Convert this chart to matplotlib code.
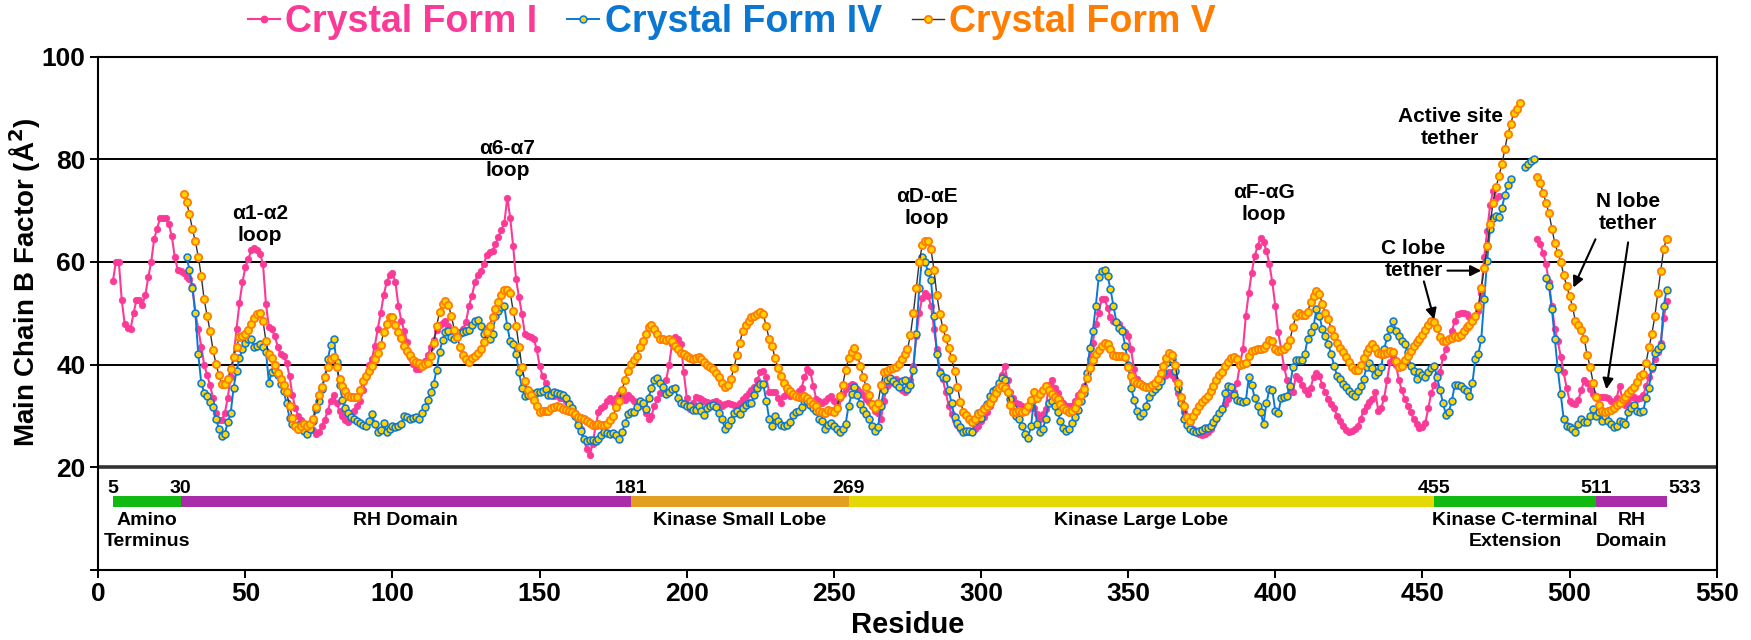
import numpy as np
import matplotlib.pyplot as plt
from matplotlib.lines import Line2D

nan = np.nan

# main chain B factor per residue
# Crystal Form I, residues 5..533 (gap 477-488)
form1_start = 5
form1 = [
    56.3, 60, 60, 52.5, 47.9,
    47.2, 47, 50, 52.6, 52.6, 51.6, 53.5, 57, 60, 64.4,
    66.5, 68.5, 68.5, 68.5, 67.3, 65, 61, 58.5, 58.2, 57.8,
    57, 56.6, 55.3, 50, 47, 43.5, 40, 38, 36, 33.5,
    30.5, 29.2, 29.3, 30.5, 33.5, 37.5, 41.5, 47, 52, 56,
    59, 60.5, 62.3, 62.8, 62.4, 61.6, 59.5, 51.8, 47.3, 46.9,
    45.5, 43.5, 42, 41.7, 40.3, 37.8, 34, 31.5, 30, 29.3,
    28.5, 27.8, 27.5, 27.2, 26.5, 26.8, 28, 29.3, 31, 33,
    34, 32.5, 31, 30, 29.3, 28.8, 29.8, 31, 32, 33,
    35, 37.5, 40, 41.1, 43.7, 47, 50, 53.5, 56, 57.4,
    57.9, 56, 51.5, 48.5, 46.6, 44.4, 41.5, 40.1, 39.2, 39.1,
    40, 40.7, 41.8, 43.5, 44.7, 46.8, 47.8, 48.1, 48.5, 47.5,
    46, 45.8, 46.3, 46, 47, 48.3, 51.5, 53.4, 56, 57.5,
    58.2, 59.5, 61.3, 61.9, 62.2, 63.5, 64.8, 66.3, 67.5, 72.5,
    68.6, 63.1, 56.6, 53.1, 49.8, 45.9, 45.6, 45.3, 45, 43,
    39.8, 37.8, 36.5, 34.9, 34, 33.8, 34, 33.5, 33.5, 33,
    32.5, 31.5, 30.5, 29, 27.5, 25.5, 23.5, 22.3, 24.5, 28,
    30.7, 31.5, 32, 33, 33.5, 32.8, 33.5, 34.3, 33.8, 33.2,
    34, 33.5, 33, 32.6, 32.5, 32, 30.5, 29.4, 30, 32,
    33.3, 34.5, 35.6, 37, 40, 44, 45.3, 45, 44, 38.5,
    33.5, 31.3, 32.5, 33.6, 33.5, 33.3, 33, 32.8, 32.6, 32.8,
    33, 32.5, 32, 32.3, 32.6, 32.4, 32.2, 32, 32.6, 33.3,
    33.8, 34.4, 35, 35.6, 37, 38.5, 38.8, 37.5, 34.6, 34.6,
    34.6, 33.5, 32.6, 33.9, 34.6, 33.9, 34, 34.3, 34.8, 35.5,
    37.5, 39.1, 38.5, 35.9, 33.3, 33, 32.6, 33, 33.5, 33.9,
    33, 32.6, 33.5, 34.2, 35.3, 35.8, 36.2, 36, 35.3, 34.6,
    34, 33.3, 32.8, 32, 31, 30.5, 29.4, 33, 35.9, 36.5,
    37, 37.2, 36, 35, 34.6, 35, 37, 39.8, 45.6, 50,
    53, 54, 53.4, 51.5, 47, 43, 38.8, 37.2, 34.6, 32,
    30.3, 29.2, 28.2, 27.4, 27, 26.8, 26.9, 27.1, 27.5, 28,
    29, 29.8, 30.7, 32, 33.3, 34.6, 35.9, 38, 39.8, 37,
    34.6, 33.5, 32.6, 32.3, 32, 31.6, 31.3, 33, 31.5, 30.3,
    29.4, 30.3, 31.3, 36, 37, 35.5, 34.5, 33.3, 32.6, 32,
    32, 32, 33, 34, 34.6, 35.8, 37.2, 41, 44.3, 48,
    50.1, 52.7, 52.7, 51.1, 49.2, 48.5, 48.2, 47.9, 47, 46.3,
    45.6, 43, 39.1, 37.2, 36.5, 36, 35.7, 35.6, 35.6, 36,
    36.5, 37, 37.5, 38, 38.5, 38, 37.2, 34.5, 32.5, 30.7,
    29.5, 28.7, 27.5, 27, 26.5, 26.2, 26.5, 26.8, 27.4, 28.5,
    29.5, 30.5, 31.5, 32.3, 33.3, 34, 34.6, 36.5, 40, 43,
    49.5, 54, 57.9, 61.2, 63, 64.7, 63.8, 62.2, 59.5, 56,
    51.4, 46.3, 43, 39.5, 37, 35.3, 34.6, 37.8, 37.2, 36,
    35, 34.3, 35.5, 37.5, 38.3, 37.8, 36, 34.6, 33.3, 32.3,
    31.5, 30, 29, 28, 27.2, 26.8, 27, 27.5, 28.1, 29.5,
    31, 32, 32.8, 33.3, 34.6, 31, 31.5, 33.5, 37, 40.5,
    41.5, 40, 37, 35, 33.3, 32, 30.7, 29.5, 28.5, 27.6,
    27.8, 28.7, 31.5, 34.5, 36, 38, 38.5, 41.5, 43, 45,
    46.5, 48.5, 49.8, 50.1, 50.1, 49.8, 49.2, 49, 49.2, 50.5,
    54, 61, 66, 71, 73.8, 72.5, 72.9, nan, nan, nan,
    nan, nan, nan, nan, nan, nan, nan, nan, nan, 64.5,
    63.5, 61.8, 59.5, 56, 51.5, 47, 44.6, 41.5, 38.5, 35.5,
    33, 32.5, 32.3, 33.2, 35, 37, 36.5, 35.2, 34.2, 33.8,
    33.6, 33.6, 33.6, 33.4, 33, 32.7, 33.5, 35.9, 33, 32.2,
    32.5, 33.6, 33.6, 33.3, 33.5, 34, 35.8, 37.5, 39.2, 41,
    42.5, 44.3, 49, 52.4,
]

# Crystal Form IV, residues 30..533
form4_start = 30
form4 = [
    60.9, 58.5, 55, 50, 42, 36.5, 34.5, 33.8, 32.8, 31.8,
    29.5, 27.5, 26, 26.5, 28.8, 30.5, 35.5, 38.8, 41.2, 43,
    44.3, 45, 45, 43.5, 43.6, 44, 43.5, 42.5, 36.5, 38.5,
    39, 38, 36.2, 34.8, 32.5, 29.6, 28.4, 28, 28.3, 28,
    27, 26.5, 27.4, 29, 31.3, 33, 35.3, 37.5, 41, 43.8,
    45, 40.5, 36, 33.2, 31.5, 30.5, 29.8, 29.4, 29, 28.6,
    28.3, 28.1, 29, 30.4, 28.5, 26.8, 27.3, 28.6, 26.8, 27.5,
    28.1, 27.9, 28, 28.4, 30, 29.7, 29.4, 29.6, 29.7, 29.4,
    30.5, 31.7, 33.2, 34.6, 36.3, 39, 42.5, 44.8, 46.3, 46.5,
    45.3, 45, 45.5, 46.2, 46.3, 46.5, 46.8, 47.8, 48.5, 48.7,
    47.5, 46, 46.9, 45, 46, 49.5, 50.5, 51.3, 51.4, 47.5,
    44.5, 44, 42, 38.5, 35.5, 33.8, 34, 34.4, 34, 34.6,
    34.6, 34.8, 35.3, 34, 34, 34.6, 34.4, 34.3, 34.1, 33.5,
    32.3, 31.5, 30, 28.2, 27, 25.5, 25.1, 25.4, 25.3, 25.2,
    25.6, 26.3, 26.8, 26.7, 26.5, 26.7, 26.2, 25.5, 26.8, 28.7,
    30.3, 30.7, 30.7, 31.8, 33, 32.5, 31.3, 33.5, 35.5, 37,
    37.3, 36.5, 35.6, 34.2, 34.6, 35.3, 35.4, 33.5, 32.5, 32.3,
    32, 32, 31.2, 31.2, 32, 31, 30.2, 31.5, 32, 32.2,
    31.8, 30.6, 29.4, 27.5, 28.3, 29.3, 30.5, 31, 30.4, 31.5,
    32.2, 32.6, 32.6, 34, 35.4, 36.3, 36.2, 33, 29.5, 28.1,
    30, 29, 28.2, 28.1, 28.3, 28.8, 30.2, 30.8, 31, 31.8,
    33, 32.9, 32.2, 31.6, 31, 29.5, 29, 27.5, 28.3, 28.7,
    28, 27.4, 26.9, 27.5, 28.5, 32, 34.2, 35.6, 34, 32.3,
    31.2, 30.3, 29.4, 28.1, 27.1, 27.8, 32, 35, 37, 37.4,
    36.8, 36.2, 35.6, 36.8, 37, 35.2, 36, 39, 46, 55,
    61, 60, 58, 56.5, 49.5, 42, 38.3, 37.5, 37.3, 35,
    32.5, 29.8, 28.6, 27.8, 26.9, 27, 27.1, 26.8, 29, 30.5,
    29.6, 31.5, 32.3, 33.8, 34.8, 35.3, 36.5, 37.4, 37, 34.6,
    33.3, 31.5, 30, 29.5, 28, 26.5, 25.8, 28, 33.3, 28.5,
    26.8, 27.5, 29.5, 32.5, 33, 32, 30.7, 29.1, 27.6, 27,
    27.5, 28.6, 29.8, 31.2, 33, 34.5, 38.3, 43.3, 46.5, 51.4,
    57, 58.3, 58.5, 57.3, 54.7, 51.4, 48.3, 47.2, 46.6, 43.6,
    40, 35.5, 33.2, 31, 29.9, 30.5, 32, 33.7, 34.6, 35.2,
    35.9, 36.8, 38.5, 40.3, 41.4, 41, 38.8, 35.5, 32.5, 29.5,
    28.2, 27.4, 27, 26.9, 27, 27.2, 27.6, 27.6, 28, 28.8,
    29.6, 30.5, 31.3, 34.5, 35.9, 35.7, 34, 33.2, 33, 32.7,
    33, 37.5, 36, 33.5, 32, 30.8, 28.4, 32.5, 35.2, 35,
    31, 30.5, 33.4, 33.6, 33.9, 35.8, 39.5, 40.8, 40.8, 40.9,
    42, 45, 46.3, 47.5, 50.8, 49.5, 46.9, 45.6, 44, 42,
    39.8, 37.8, 37.2, 36.2, 35.6, 34.8, 34.2, 33.8, 34.9, 35.9,
    37.2, 39.5, 40.4, 39.3, 38, 38.5, 39.6, 43, 45.3, 47,
    48.5, 46.6, 45.6, 44.6, 44, 42.4, 39.8, 38.7, 37.2, 38.5,
    38, 37.6, 38.5, 39.3, 39.8, 37.5, 35, 32.5, 30.2, 30.8,
    33, 36, 36.1, 35.8, 35.2, 34.8, 33.9, 36.5, 41.1, 42.1,
    45, 52.8, 60.2, 66.5, 68.5, 69, 68.7, 70.5, 73, 75,
    76.1, nan, nan, nan, nan, 78.5, 79, 79.7, 80.1, nan,
    nan, nan, 56.9, 55.3, 50.8, 45, 39.1, 34.3, 29.4, 28.1,
    27.8, 27.5, 26.8, 28.4, 29.4, 28.8, 28.8, 30, 31.3, 30,
    30.7, 29.1, 30, 29, 28.4, 27.8, 28.1, 29.1, 28.8, 28.4,
    30.7, 31.5, 32.2, 31, 30.7, 30.9, 33.5, 35.5, 39.5, 42.3,
    43, 43.7, 51.4, 54.6,
]

# Crystal Form V, residues 29..533
form5_start = 29
form5 = [
    73.2,
    71.7, 69.3, 66.4, 64, 61, 57.3, 52.7, 49.5, 46.6, 42.8,
    40.2, 38, 36.2, 36.2, 37.2, 39.1, 41.5, 43.5, 45.3, 45.6,
    45.9, 46.8, 48, 49, 49.8, 50.1, 48.5, 44.5, 42, 41.2,
    40, 38.3, 37.1, 36, 34.6, 32, 29.6, 28, 27.4, 28.1,
    28.5, 28.1, 28.5, 29.5, 31.8, 34, 35.6, 37.6, 39.5, 41,
    41.4, 39.5, 37.2, 35.8, 34.9, 33.9, 33.6, 33.6, 33.6, 35,
    36.8, 37.8, 38.8, 39.8, 41.1, 42.3, 43.8, 46.3, 48, 49.2,
    49.2, 47.8, 46.3, 45.1, 43.6, 42.6, 41.8, 40.8, 40.5, 40.3,
    39.8, 40.1, 40.4, 41.7, 44.3, 47.5, 50.3, 51.8, 52.4, 51.6,
    49.5, 46.8, 45.3, 43.4, 41.8, 41, 40.5, 41.3, 41.7, 42.3,
    43, 44.4, 46.3, 47.5, 49.3, 50.8, 52.1, 53.5, 54.6, 54.6,
    54, 50.5, 47.6, 43.5, 39.5, 36.8, 35, 34, 33.2, 32,
    30.8, 31, 31, 31, 31.5, 31.8, 32, 31.7, 31.3, 31.1,
    31, 30.8, 30.4, 29.8, 29.6, 29.4, 29, 28.6, 28.2, 28.2,
    28.4, 28.2, 28.2, 28.5, 29.2, 30, 31.8, 33, 35, 37,
    38.8, 40.2, 40.8, 41.7, 43.5, 44.6, 46, 47.4, 47.8, 47,
    46, 45, 45, 44.7, 45, 44.5, 43.7, 43, 42.3, 42,
    41.6, 41.3, 41.1, 41.2, 41.4, 41, 40.5, 40, 39.6, 39.1,
    38.3, 37.6, 36.5, 35.6, 36.1, 37.2, 39.3, 41.8, 44.3, 46.5,
    47.8, 48.5, 49.2, 49.5, 49.9, 50.3, 49.8, 47.5, 45, 43.7,
    41.2, 39.4, 37.7, 36.4, 35.5, 34.9, 34.3, 33.9, 33.6, 33.6,
    33.8, 33.5, 32.9, 32.3, 31.9, 31, 30.8, 30.5, 31.2, 31,
    30.8, 31.5, 33.9, 36, 39, 41.2, 42.5, 43.3, 41.7, 39.8,
    37.6, 35.6, 34, 32.4, 31.6, 32.5, 36, 38.5, 38.8, 39.1,
    39.3, 39.6, 40.1, 41, 42, 43, 45.7, 50, 55, 59.9,
    63.2, 64.1, 64, 62.5, 58.5, 53.5, 49.9, 47.2, 45.2, 43.3,
    41.2, 38.8, 35.6, 32.8, 30.8, 30.2, 29.5, 28.9, 29.5, 30.4,
    30.8, 31.3, 32, 32.5, 33.5, 34.5, 35.4, 35.9, 35.4, 34.6,
    32.1, 30.8, 30.7, 30.9, 30.8, 31, 32, 33.2, 34.6, 33.5,
    34.2, 35, 35.8, 35.1, 34.2, 33.6, 33.3, 32.4, 31.5, 31.1,
    30.8, 30.9, 31.5, 32.8, 34, 35.2, 37.3, 39.3, 40.8, 42,
    42.9, 43.6, 44.2, 44, 43.1, 41.9, 41.7, 41.7, 41.7, 41.5,
    39.5, 37.8, 36.9, 36.5, 36.2, 35.8, 35.7, 35.7, 36, 36.5,
    37.2, 38.4, 39.7, 41.2, 42.2, 41.8, 40, 36.5, 33.6, 32,
    29.7, 29, 30, 31, 32, 32.8, 33.3, 33.9, 34.8, 35.8,
    37, 38, 38.6, 39.7, 40.6, 41.2, 41.4, 41.1, 40, 40.1,
    40.3, 41.6, 42.6, 42.9, 43, 43, 43.3, 43.8, 44.8, 44.5,
    43, 42.7, 42.8, 43, 43.6, 44.8, 47.4, 49.4, 50.1, 49.7,
    49.7, 50.3, 52.1, 53.3, 54.4, 53.8, 51.8, 50.1, 48.8, 47,
    45.5, 44.2, 43.2, 42.4, 41.4, 40.5, 39.5, 38.9, 38.9, 39.9,
    41.3, 42.5, 43.3, 44, 43.3, 42.3, 42, 42, 42.3, 42.6,
    42.5, 40.7, 39.5, 39.7, 40.9, 41.7, 42.6, 43.6, 44.4, 45,
    45.8, 46.7, 47.8, 48.4, 48.3, 47.2, 45.4, 44.6, 44.6, 45,
    45.2, 45.5, 45.4, 45.8, 46.6, 47.3, 47.8, 48.5, 49.5, 51.5,
    55, 58.8, 63.1, 67.3, 71.5, 74.5, 76.7, 79, 82, 84.9,
    86.8, 89, 89.8, 90.9, nan, nan, nan, nan, nan, 76.6,
    75.4, 73.5, 71.5, 69.5, 66.5, 63.6, 61.8, 60, 57.5, 55.3,
    53.4, 51.3, 48.4, 47.7, 46.8, 45, 41.8, 39.6, 36.5, 33.6,
    32.2, 31, 30.7, 30.9, 31.2, 31.6, 32.1, 32.6, 33.3, 33.6,
    34.4, 35, 35.7, 36.6, 37.8, 38.2, 40.4, 43.4, 46, 49.5,
    54, 58.3, 62.6, 64.5,
]

series_names = ['Crystal Form I', 'Crystal Form IV', 'Crystal Form V']

# domain map under the curves
domain_edges = [5, 28, 181, 255, 454, 509, 533]
edge_labels = ['5', '30', '181', '269', '455', '511', '533']
domain_names = ['Amino\nTerminus', 'RH Domain', 'Kinase Small Lobe',
                'Kinase Large Lobe', 'Kinase C-terminal\nExtension', 'RH\nDomain']
domain_colors = ['#12b912', '#a92ca8', '#e1a024', '#e4d806', '#12b912', '#a92ca8']

# loop labels: text, residue, B factor
loop_labels = [
    ('\u03b11-\u03b12\nloop', 55, 67.3),
    ('\u03b16-\u03b17\nloop', 139, 80.0),
    ('\u03b1D-\u03b1E\nloop', 281.5, 70.6),
    ('\u03b1F-\u03b1G\nloop', 396, 71.3),
    ('Active site\ntether', 459.5, 86.2),
]

PINK = '#fb3a97'
BLUE = '#0a78d2'
ORANGE = '#ff7d00'
YELLOW = '#ffd200'

plt.rcParams['font.family'] = ['Liberation Sans', 'DejaVu Sans']

fig = plt.figure(figsize=(17.51, 6.40), dpi=100)
ax = fig.add_axes([0.0561, 0.1094, 0.9243, 0.8023])


def residues(start, vals):
    return np.arange(start, start + len(vals))


ax.plot(residues(form1_start, form1), form1, '-o', color=PINK, lw=1.5,
        ms=4.6, mfc=PINK, mec=PINK, mew=0.6, zorder=3)
ax.plot(residues(form4_start, form4), form4, '-o', color=BLUE, lw=1.4,
        ms=5.0, mfc=YELLOW, mec=BLUE, mew=1.1, zorder=4)
ax.plot(residues(form5_start, form5), form5, '-o', color='#333333', lw=1.0,
        ms=5.2, mfc=YELLOW, mec=ORANGE, mew=1.3, zorder=5)

for yv in (40, 60, 80):
    ax.axhline(yv, color='black', lw=1.4, zorder=1)
ax.axhline(20, color='#333333', lw=2.6, zorder=1)

ax.set_xlim(0, 550)
ax.set_ylim(0, 100)
ax.set_xticks(np.arange(0, 551, 50))
ax.set_yticks([0, 20, 40, 60, 80, 100])
ax.set_yticklabels(['', '20', '40', '60', '80', '100'])
ax.tick_params(direction='out', length=6, width=1.4, labelsize=19, pad=3)
for lab in ax.get_xticklabels() + ax.get_yticklabels():
    lab.set_fontweight('bold')
for sp in ax.spines.values():
    sp.set_linewidth(1.5)

ax.set_xlabel('Residue', fontsize=21, fontweight='bold', labelpad=3)
ax.set_ylabel('Main Chain B Factor (\u00c5$^\\mathbf{2}$)', fontsize=20,
              fontweight='bold')
ax.yaxis.set_label_coords(-0.034, 0.56)

# domain bar
for i in range(len(domain_names)):
    x0, x1 = domain_edges[i], domain_edges[i + 1]
    ax.barh(13.4, x1 - x0, left=x0, height=2.1, color=domain_colors[i], zorder=2)
    ax.text((x0 + x1) / 2, 11.2, domain_names[i], ha='center', va='top',
            fontsize=14, fontweight='bold', linespacing=1.3)
for i, lab in enumerate(edge_labels):
    xpos = domain_edges[i] if i < len(edge_labels) - 1 else domain_edges[i] + 6
    ax.text(xpos, 14.9, lab, ha='center', va='baseline', fontsize=14,
            fontweight='bold')

# loop annotations
for txt, xr, yv in loop_labels:
    ax.text(xr, yv, txt, ha='center', va='center', fontsize=15,
            fontweight='bold', linespacing=1.2, zorder=6)

arrow = dict(arrowstyle='-|>', color='black', lw=1.5, mutation_scale=16,
             shrinkA=0, shrinkB=0)
ax.text(447, 60.5, 'C lobe\ntether', ha='center', va='center', fontsize=15,
        fontweight='bold', linespacing=1.2, zorder=6)
ax.annotate('', xy=(470, 58.3), xytext=(458.5, 58.3), arrowprops=arrow, zorder=6)
ax.annotate('', xy=(454, 48.8), xytext=(450.5, 56.2), arrowprops=arrow, zorder=6)
ax.text(520, 69.6, 'N lobe\ntether', ha='center', va='center', fontsize=15,
        fontweight='bold', linespacing=1.2, zorder=6)
ax.annotate('', xy=(501.3, 55.0), xytext=(508.8, 64.4), arrowprops=arrow, zorder=6)
ax.annotate('', xy=(512.5, 35.2), xytext=(519.9, 63.8), arrowprops=arrow, zorder=6)

# legend above the plot
handles = [
    Line2D([], [], color=PINK, lw=1.5, marker='o', ms=4.6, mfc=PINK, mec=PINK),
    Line2D([], [], color=BLUE, lw=1.4, marker='o', ms=5.0, mfc=YELLOW, mec=BLUE, mew=1.1),
    Line2D([], [], color='#333333', lw=1.0, marker='o', ms=5.2, mfc=YELLOW, mec=ORANGE, mew=1.3),
]
leg = fig.legend(handles, series_names, loc='center', bbox_to_anchor=(0.418, 0.966),
                 ncol=3, frameon=False, numpoints=1, handlelength=0.85,
                 handletextpad=0.15, columnspacing=0.8,
                 prop={'size': 27, 'weight': 'bold'})
for t, c in zip(leg.get_texts(), [PINK, BLUE, ORANGE]):
    t.set_color(c)

fig.savefig('out.png', dpi=100)
